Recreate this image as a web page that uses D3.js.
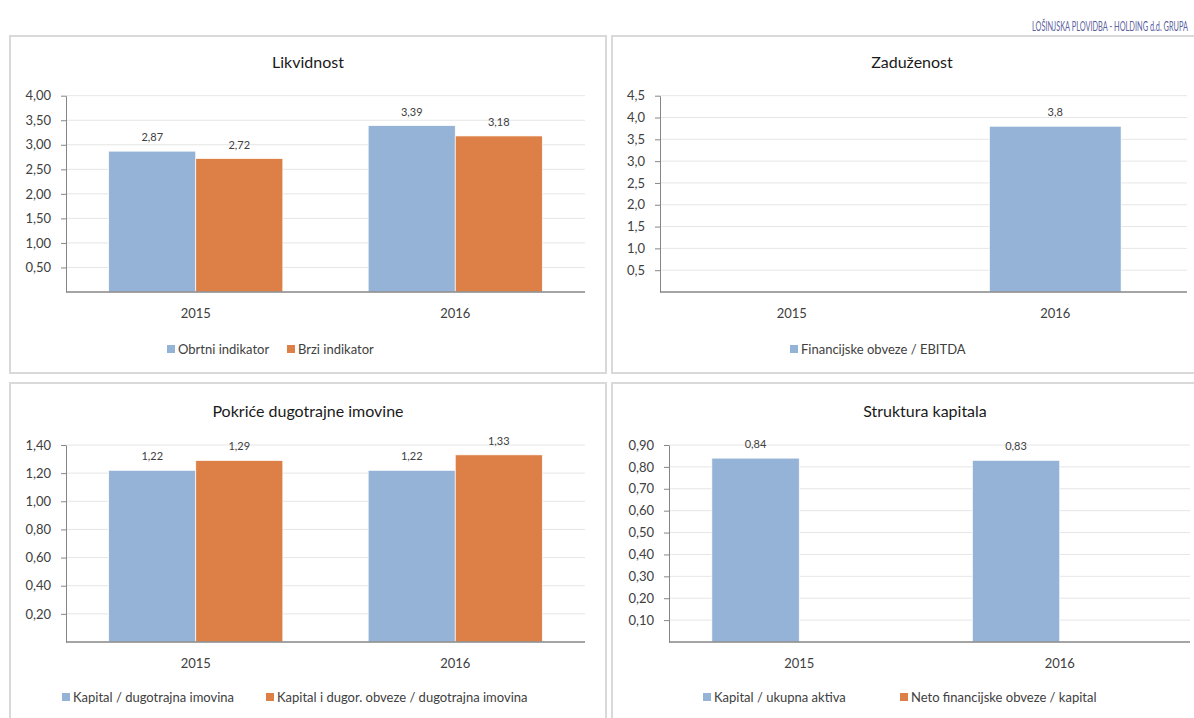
<!DOCTYPE html>
<html>
<head>
<meta charset="utf-8">
<script src="https://cdn.jsdelivr.net/npm/d3@7"></script>
<style>
  html, body { margin: 0; padding: 0; background: #fff; overflow: hidden; }
  svg { display: block; font-family: Lato, 'Open Sans', sans-serif; font-weight: 400; }
</style>
</head>
<body>
<svg id="chart" width="1194" height="718"></svg>
<script>
const years = ['2015', '2016']

// Likvidnost
const likvidnostNames = ['Obrtni indikator', 'Brzi indikator']
const obrtniIndikator = [2.87, 3.39]
const brziIndikator = [2.72, 3.18]
const likvidnostTicks = [0.5, 1, 1.5, 2, 2.5, 3, 3.5, 4]

// Zaduzenost
const zaduzenostNames = ['Financijske obveze / EBITDA']
const obvezeEbitda = [null, 3.8]
const zaduzenostTicks = [0.5, 1, 1.5, 2, 2.5, 3, 3.5, 4, 4.5]

// Pokrice dugotrajne imovine
const pokriceNames = ['Kapital / dugotrajna imovina', 'Kapital i dugor. obveze / dugotrajna imovina']
const kapitalDugotrajna = [1.22, 1.22]
const kapitalObvezeDugotrajna = [1.29, 1.33]
const pokriceTicks = [0.2, 0.4, 0.6, 0.8, 1.0, 1.2, 1.4]

// Struktura kapitala
const strukturaNames = ['Kapital / ukupna aktiva', 'Neto financijske obveze / kapital']
const kapitalAktiva = [0.84, 0.83]
const netoObvezeKapital = [null, null]
const strukturaTicks = [0.1, 0.2, 0.3, 0.4, 0.5, 0.6, 0.7, 0.8, 0.9]

const BLUE = '#95b3d7'
const ORANGE = '#dd8047'
const TEXT = '#404040'

const svg = d3.select('#chart')

svg.append('text')
  .attr('x', 1188).attr('y', 31)
  .attr('text-anchor', 'end')
  .attr('textLength', 156)
  .attr('lengthAdjust', 'spacingAndGlyphs')
  .style('font-size', '13px')
  .style('fill', '#5b5f9e')
  .text('LOŠINJSKA PLOVIDBA - HOLDING d.d. GRUPA')

function comma (decimals) {
  const f = d3.format(`.${decimals}f`)
  return v => f(v).replace('.', ',')
}

function drawPanel (cfg) {
  const g = svg.append('g')

  g.append('rect')
    .attr('x', cfg.box[0]).attr('y', cfg.box[1])
    .attr('width', cfg.box[2]).attr('height', cfg.box[3])
    .attr('fill', '#fff')
    .attr('stroke', '#d9d9d9')
    .attr('stroke-width', 2)

  g.append('text')
    .attr('x', cfg.titleX).attr('y', cfg.titleY)
    .attr('text-anchor', 'middle')
    .style('font-size', '16px')
    .style('fill', '#1a1a1a')
    .text(cfg.title)

  const [left, right, top, bottom] = cfg.plot
  const yMax = cfg.ticks[cfg.ticks.length - 1]

  const x = d3.scaleBand().domain(years).range([left, right]).padding(0)
  const xs = d3.scaleBand()
    .domain(cfg.series.map((s, i) => i))
    .range([0, x.bandwidth()])
    .paddingInner(0)
    .paddingOuter(cfg.outer)
  const y = d3.scaleLinear().domain([0, yMax]).range([bottom, top])

  // gridlines
  g.append('g').selectAll('line')
    .data(cfg.ticks)
    .join('line')
    .attr('x1', left).attr('x2', right)
    .attr('y1', d => y(d)).attr('y2', d => y(d))
    .attr('stroke', '#e6e6e6')
    .attr('stroke-width', 1)

  // bars
  cfg.series.forEach((s, i) => {
    const data = years.map((yr, j) => ({ yr, v: s.values[j] })).filter(d => d.v != null)
    g.append('g').selectAll('rect')
      .data(data)
      .join('rect')
      .attr('x', d => x(d.yr) + xs(i))
      .attr('width', xs.bandwidth())
      .attr('y', d => y(d.v))
      .attr('height', d => y(0) - y(d.v))
      .attr('fill', s.color)
      .attr('stroke', '#fff')
      .attr('stroke-width', 0.7)

    g.append('g').selectAll('text')
      .data(data)
      .join('text')
      .attr('x', d => x(d.yr) + xs(i) + xs.bandwidth() / 2)
      .attr('y', d => y(d.v) - 10)
      .attr('text-anchor', 'middle')
      .style('font-size', '11px')
      .style('fill', TEXT)
      .text(d => comma(cfg.labelDecimals)(d.v))
  })

  // y axis
  const yAxis = g.append('g')
    .attr('transform', `translate(${left},0)`)
    .call(d3.axisLeft(y).tickValues(cfg.ticks).tickSize(5).tickSizeOuter(0).tickPadding(10).tickFormat(comma(cfg.tickDecimals)))
  yAxis.select('.domain').attr('stroke', '#868686')
  yAxis.selectAll('.tick line').attr('stroke', '#868686')
  yAxis.selectAll('.tick text')
    .style('font-size', '13px')
    .style('font-family', 'Lato, sans-serif')
    .attr('fill', TEXT)

  // baseline
  g.append('line')
    .attr('x1', left).attr('x2', right)
    .attr('y1', y(0)).attr('y2', y(0))
    .attr('stroke', '#868686')
    .attr('stroke-width', 1.3)

  // categories
  g.append('g').selectAll('text')
    .data(years)
    .join('text')
    .attr('x', d => x(d) + x.bandwidth() / 2)
    .attr('y', bottom + 26)
    .attr('text-anchor', 'middle')
    .style('font-size', '13px')
    .style('fill', TEXT)
    .text(d => d)

  // legend
  cfg.series.forEach((s, i) => {
    const lx = cfg.legendX[i]
    g.append('rect')
      .attr('x', lx).attr('y', cfg.legendY - 9)
      .attr('width', 8).attr('height', 8)
      .attr('fill', s.color)
    g.append('text')
      .attr('x', lx + 11).attr('y', cfg.legendY)
      .style('font-size', '13px')
      .style('fill', TEXT)
      .text(s.name)
  })
}

drawPanel({
  box: [10, 36, 596, 337],
  title: 'Likvidnost', titleX: 308, titleY: 68,
  plot: [66, 585, 95.7, 292],
  ticks: likvidnostTicks, tickDecimals: 2, labelDecimals: 2,
  outer: 0.49,
  series: [
    { name: likvidnostNames[0], values: obrtniIndikator, color: BLUE },
    { name: likvidnostNames[1], values: brziIndikator, color: ORANGE }
  ],
  legendX: [167, 287], legendY: 354
})

drawPanel({
  box: [612, 36, 600, 337],
  title: 'Zaduženost', titleX: 912, titleY: 68,
  plot: [660, 1187, 95.7, 292],
  ticks: zaduzenostTicks, tickDecimals: 1, labelDecimals: 1,
  outer: 0.5,
  series: [
    { name: zaduzenostNames[0], values: obvezeEbitda, color: BLUE }
  ],
  legendX: [790], legendY: 354
})

drawPanel({
  box: [10, 383, 596, 345],
  title: 'Pokriće dugotrajne imovine', titleX: 308, titleY: 417,
  plot: [66, 585, 445, 642],
  ticks: pokriceTicks, tickDecimals: 2, labelDecimals: 2,
  outer: 0.49,
  series: [
    { name: pokriceNames[0], values: kapitalDugotrajna, color: BLUE },
    { name: pokriceNames[1], values: kapitalObvezeDugotrajna, color: ORANGE }
  ],
  legendX: [62, 266], legendY: 702
})

drawPanel({
  box: [612, 383, 600, 345],
  title: 'Struktura kapitala', titleX: 925, titleY: 417,
  plot: [669, 1190, 445, 642],
  ticks: strukturaTicks, tickDecimals: 2, labelDecimals: 2,
  outer: 0.49,
  series: [
    { name: strukturaNames[0], values: kapitalAktiva, color: BLUE },
    { name: strukturaNames[1], values: netoObvezeKapital, color: ORANGE }
  ],
  legendX: [703, 900], legendY: 702
})
</script>
</body>
</html>
